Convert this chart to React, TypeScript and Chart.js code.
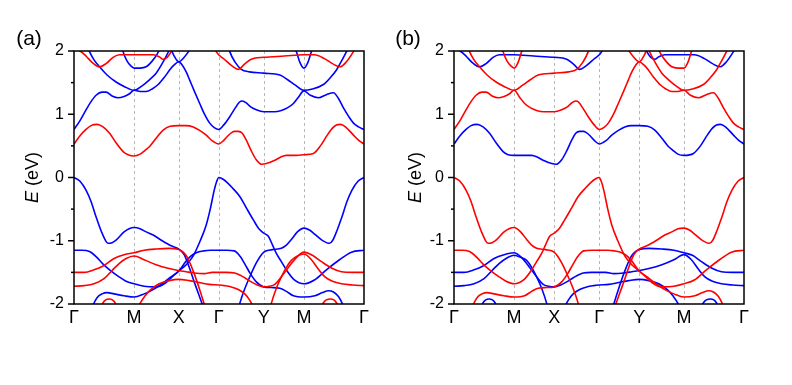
import React, { useEffect, useRef } from 'react';
import { Chart, registerables } from 'chart.js';
Chart.register(...registerables);

type Pt = [number, number];

const kLabels = ['Γ', 'M', 'X', 'Γ', 'Y', 'M', 'Γ'];
const kTicksA = [0, 60, 104.5, 144.5, 189.5, 229.5, 289.5];
const kTicksB = [0, 60, 100, 145, 185, 229.5, 289.5];
const yMin = -2;
const yMax = 2;

// ---------- Panel (a): red bands ----------
const redA1: Pt[] = [[0,0.53],[6,0.66],[12,0.76],[17,0.82],[23,0.84],[29,0.8],[35.5,0.7],[42,0.55],[49,0.41],[54,0.36],[60,0.34],[66,0.37],[71,0.43],[75.5,0.49],[82,0.62],[89,0.75],[96,0.81],[104.5,0.82],[112,0.82],[119,0.8],[125,0.75],[132,0.67],[138,0.58],[144.5,0.53],[149,0.58],[155,0.68],[160,0.73],[164,0.73],[168,0.7],[172,0.59],[177,0.42],[182,0.28],[187,0.21],[192,0.22],[200,0.27],[206,0.32],[212,0.35],[222,0.35],[229.5,0.36],[239,0.38],[246,0.5],[252,0.65],[258,0.78],[262,0.83],[266,0.84],[271,0.8],[279,0.67],[284,0.59],[289.5,0.53]];
const redA2a: Pt[] = [[0,2.03],[6,2.0],[12,1.92],[18,1.82],[25.5,1.75],[32,1.8],[39,1.9],[45.5,1.94],[60,1.94],[79,1.94],[85,1.91],[89,1.87],[93,1.9],[97,1.99],[100,2.1]];
const redA2b: Pt[] = [[137,2.2],[142,1.99],[150,1.87],[158,1.76],[164,1.71],[170,1.79],[177,1.87],[189.5,1.9],[210,1.92],[229.5,1.94],[240,1.94],[250,1.88],[258,1.8],[265.5,1.75],[272,1.83],[279,1.99],[283,2.1]];
const redAv1: Pt[] = [[0,-1.5],[10,-1.5],[20,-1.46],[29,-1.4],[40,-1.28],[50,-1.22],[60,-1.19],[70,-1.15],[82,-1.13],[95,-1.12],[104.5,-1.14],[109,-1.18],[113,-1.26],[119.5,-1.5],[125,-1.75],[130,-2.0],[133,-2.15]];
const redAv2: Pt[] = [[0,-1.72],[10,-1.71],[20,-1.68],[30,-1.6],[38,-1.47],[45,-1.36],[52,-1.28],[60,-1.24],[70,-1.3],[82,-1.38],[95,-1.44],[104.5,-1.47],[112,-1.49],[120,-1.51],[130,-1.52],[138,-1.5],[144.5,-1.5],[152,-1.5],[160.5,-1.51],[170,-1.58],[177,-1.65],[183,-1.7],[189.5,-1.73],[195,-1.72],[200.5,-1.69],[208,-1.55],[217,-1.36],[223,-1.25],[229.5,-1.18],[238,-1.23],[247,-1.33],[257,-1.43],[267,-1.49],[278,-1.5],[289.5,-1.5]];
const redAv3: Pt[] = [[62,-2.15],[66,-1.99],[71,-1.87],[76,-1.78],[85,-1.68],[95,-1.63],[104.5,-1.61],[115,-1.63],[125,-1.66],[135,-1.69],[144.5,-1.7],[150,-1.71],[157,-1.73],[164,-1.77],[170.5,-1.84],[175,-1.93],[178,-2.02],[181,-2.2]];
const redAv4: Pt[] = [[194,-2.2],[197,-1.99],[202,-1.75],[207,-1.57],[212,-1.42],[217,-1.31],[223,-1.24],[229.5,-1.21],[237,-1.3],[244,-1.45],[250.5,-1.57],[258,-1.64],[267,-1.68],[278,-1.7],[289.5,-1.71]];
const redAarc1: Pt[] = [[25,-2.15],[29,-1.98],[35,-1.92],[41,-1.98],[45,-2.15]];
const redAarc2: Pt[] = [[245,-2.15],[249,-1.98],[256,-1.92],[262,-1.98],[266,-2.15]];

// ---------- Panel (a): blue bands ----------
const blueAv1: Pt[] = [[0,0],[6,-0.06],[12,-0.2],[17,-0.38],[22,-0.62],[28,-0.88],[34,-1.04],[38,-1.03],[42,-0.99],[50,-0.86],[55,-0.81],[60,-0.79],[66,-0.81],[72,-0.86],[79,-0.91],[88,-1.0],[97,-1.08],[104.5,-1.13],[110,-1.22],[115,-1.42],[120,-1.65],[125,-1.87],[129,-2.05],[132,-2.2]];
const blueAv2: Pt[] = [[0,-1.15],[8,-1.15],[15.5,-1.17],[22,-1.25],[29,-1.37],[35.5,-1.46],[45,-1.57],[52,-1.64],[60,-1.68],[70,-1.72],[82,-1.73],[92,-1.66],[98,-1.57],[104.5,-1.48],[112,-1.38],[119,-1.24],[126,-1.0],[132,-0.75],[136,-0.5],[140,-0.2],[142.5,-0.06],[144.5,0],[148,-0.02],[153,-0.08],[159,-0.18],[165.5,-0.3],[172,-0.48],[179,-0.67],[185,-0.82],[189.5,-0.88],[194,-0.93],[198,-1.06],[202,-1.2],[207,-1.33],[212,-1.46],[220,-1.62],[229.5,-1.68],[240,-1.62],[252,-1.46],[265,-1.3],[277,-1.18],[289.5,-1.15]];
const blueAv3: Pt[] = [[15,-2.2],[19,-2.02],[23,-1.9],[28,-1.84],[33,-1.82],[40,-1.84],[50,-1.87],[60,-1.89],[70,-1.84],[78,-1.78],[86,-1.7],[96,-1.58],[104.5,-1.48],[112,-1.32],[116,-1.25],[122,-1.19],[129.5,-1.16],[136,-1.15],[144.5,-1.15],[152,-1.15],[160,-1.16],[166,-1.25],[171,-1.38],[176,-1.52],[182,-1.65],[189.5,-1.73],[197,-1.74],[205.5,-1.75],[212,-1.8],[219,-1.87],[229.5,-1.89],[240.5,-1.87],[248,-1.82],[254,-1.79],[259,-1.81],[264,-1.88],[268,-2.0],[272,-2.2]];
const blueAv4: Pt[] = [[162,-2.2],[165.5,-1.99],[170,-1.78],[175.5,-1.57],[182,-1.35],[189.5,-1.18],[198,-1.14],[207,-1.12],[212,-1.07],[217,-0.98],[223,-0.86],[229.5,-0.8],[235,-0.83],[240.5,-0.9],[247.5,-0.99],[255,-1.04],[258,-1.0],[261.5,-0.88],[267.5,-0.62],[272.5,-0.38],[277.5,-0.2],[283.5,-0.06],[289.5,0]];
const blueAc1: Pt[] = [[0,0.76],[6,0.9],[12,1.07],[17,1.2],[22,1.3],[28,1.35],[32,1.35],[38,1.29],[44,1.26],[50,1.28],[55,1.32],[60,1.38],[66,1.36],[72,1.36],[78,1.4],[84,1.47],[90,1.58],[96,1.71],[100,1.78],[104.5,1.83],[108,1.78],[112,1.67],[115.5,1.54],[120,1.37],[125.5,1.17],[130,1.01],[135.5,0.86],[140,0.79],[144.5,0.76],[150,0.84],[155.5,0.96],[161,1.1],[165,1.19],[168,1.21],[172,1.18],[176,1.12],[182,1.07],[189.5,1.04],[200,1.04],[207,1.06],[213,1.1],[219,1.17],[224,1.27],[229.5,1.37],[236,1.3],[244,1.26],[252,1.31],[259,1.34],[264,1.25],[269,1.1],[274,0.97],[279,0.86],[284,0.8],[289.5,0.76]];
const blueAc2a: Pt[] = [[11,2.2],[15.5,1.99],[20,1.86],[25.5,1.75],[33,1.62],[42,1.51],[50,1.44],[60,1.38],[68,1.45],[75,1.54],[82,1.65],[88,1.8],[94,1.98],[97,2.1]];
const blueAc2b: Pt[] = [[152,2.2],[155.5,1.99],[161,1.82],[167,1.71],[175,1.67],[189.5,1.65],[205.5,1.62],[213,1.55],[221,1.46],[229.5,1.38],[238,1.4],[249,1.47],[256,1.58],[262,1.7],[267,1.84],[272,1.99],[275,2.1]];
const blueAc3a: Pt[] = [[46,2.2],[49,1.99],[53,1.84],[57,1.76],[60,1.73],[66,1.73],[72,1.75],[78,1.84],[83,1.95],[86,2.05]];
const blueAc3b: Pt[] = [[219,2.1],[222,1.99],[225.5,1.82],[229.5,1.73],[233.5,1.82],[237,1.99],[240,2.1]];
const blueAc4: Pt[] = [[95,2.1],[100,1.92],[104.5,1.83],[110,1.9],[117,2.05]];

// ---------- Panel (b): red bands ----------
const redB1: Pt[] = [[0,0],[6,-0.06],[12,-0.2],[17,-0.38],[22,-0.62],[28,-0.88],[34,-1.04],[38,-1.03],[42,-0.99],[50,-0.86],[55,-0.81],[60,-0.79],[66.5,-0.86],[72.5,-0.98],[77.5,-1.07],[82.5,-1.12],[91.5,-1.14],[100,-1.18],[107.5,-1.35],[114,-1.57],[119.5,-1.78],[124,-1.99],[127.5,-2.2]];
const redB2: Pt[] = [[157.5,-2.2],[160.5,-2.05],[164.5,-1.87],[169.5,-1.65],[174.5,-1.42],[179.5,-1.22],[185,-1.13],[192.5,-1.08],[201.5,-1.0],[210.5,-0.91],[217.5,-0.86],[223.5,-0.81],[229.5,-0.8],[235,-0.83],[240.5,-0.9],[247.5,-0.99],[255,-1.04],[258,-1.0],[261.5,-0.88],[267.5,-0.62],[272.5,-0.38],[277.5,-0.2],[283.5,-0.06],[289.5,0]];
const redB3: Pt[] = [[0,-1.15],[8,-1.15],[15.5,-1.17],[22,-1.25],[29,-1.37],[35.5,-1.46],[45,-1.57],[52,-1.64],[60,-1.68],[69.5,-1.62],[77.5,-1.46],[82.5,-1.33],[87.5,-1.2],[91.5,-1.06],[95.5,-0.93],[100,-0.88],[104.5,-0.82],[110.5,-0.67],[117.5,-0.48],[124,-0.3],[130.5,-0.18],[136.5,-0.08],[141.5,-0.02],[145,0],[147,-0.06],[149.5,-0.2],[153.5,-0.5],[157.5,-0.75],[163.5,-1.0],[170.5,-1.24],[177.5,-1.38],[185,-1.48],[191.5,-1.57],[197.5,-1.66],[207.5,-1.73],[219.5,-1.72],[229.5,-1.68],[240,-1.62],[252,-1.46],[265,-1.3],[277,-1.18],[289.5,-1.15]];
const redB4: Pt[] = [[15,-2.2],[19,-2.02],[23,-1.9],[28,-1.84],[33,-1.82],[40,-1.84],[50,-1.87],[60,-1.89],[70.5,-1.87],[77.5,-1.8],[84,-1.75],[92.5,-1.74],[100,-1.73],[107.5,-1.65],[113.5,-1.52],[118.5,-1.38],[123.5,-1.25],[129.5,-1.16],[137.5,-1.15],[145,-1.15],[153.5,-1.15],[160,-1.16],[167.5,-1.19],[173.5,-1.25],[177.5,-1.32],[185,-1.48],[193.5,-1.58],[203.5,-1.7],[211.5,-1.78],[219.5,-1.84],[229.5,-1.89],[240.5,-1.87],[248,-1.82],[254,-1.79],[259,-1.81],[264,-1.88],[268,-2.0],[272,-2.2]];
const redB5: Pt[] = [[0,0.76],[6,0.9],[12,1.07],[17,1.2],[22,1.3],[28,1.35],[32,1.35],[38,1.29],[44,1.26],[50,1.28],[55,1.32],[60,1.38],[65.5,1.27],[70.5,1.17],[76.5,1.1],[82.5,1.06],[89.5,1.04],[100,1.04],[107.5,1.07],[113.5,1.12],[117.5,1.18],[121.5,1.21],[124.5,1.19],[128.5,1.1],[134,0.96],[139.5,0.84],[145,0.76],[149.5,0.79],[154,0.86],[159.5,1.01],[164,1.17],[169.5,1.37],[174,1.54],[177.5,1.67],[181.5,1.78],[185,1.83],[189.5,1.78],[193.5,1.71],[199.5,1.58],[205.5,1.47],[211.5,1.4],[217.5,1.36],[223.5,1.36],[229.5,1.38],[236,1.3],[244,1.26],[252,1.31],[259,1.34],[264,1.25],[269,1.1],[274,0.97],[279,0.86],[284,0.8],[289.5,0.76]];
const redB6: Pt[] = [[11,2.2],[15.5,1.99],[20,1.86],[25.5,1.75],[33,1.62],[42,1.51],[50,1.44],[60,1.38],[68.5,1.46],[76.5,1.55],[84,1.62],[100,1.65],[114.5,1.67],[122.5,1.71],[128.5,1.82],[134,1.99],[137.5,2.2]];
const redB7: Pt[] = [[192.5,2.1],[195.5,1.98],[201.5,1.8],[207.5,1.65],[214.5,1.54],[221.5,1.45],[229.5,1.38],[238,1.4],[249,1.47],[256,1.58],[262,1.7],[267,1.84],[272,1.99],[275,2.1]];
const redB8: Pt[] = [[46,2.2],[49,1.99],[53,1.84],[57,1.76],[60,1.73],[64,1.82],[67.5,1.99],[70.5,2.1]];
const redB9: Pt[] = [[203.5,2.05],[206.5,1.95],[211.5,1.84],[217.5,1.75],[223.5,1.73],[229.5,1.73],[233.5,1.82],[237,1.99],[240,2.1]];
const redB10: Pt[] = [[172.5,2.05],[179.5,1.9],[185,1.83],[189.5,1.92],[194.5,2.1]];

// ---------- Panel (b): blue bands ----------
const blueB1: Pt[] = [[0,0.53],[6,0.66],[12,0.76],[17,0.82],[23,0.84],[29,0.8],[35.5,0.7],[42,0.55],[49,0.41],[54,0.36],[60,0.35],[67.5,0.35],[77.5,0.35],[83.5,0.32],[89.5,0.27],[97.5,0.22],[102.5,0.21],[107.5,0.28],[112.5,0.42],[117.5,0.59],[121.5,0.7],[125.5,0.73],[129.5,0.73],[134.5,0.68],[140.5,0.58],[145,0.53],[151.5,0.58],[157.5,0.67],[164.5,0.75],[170.5,0.8],[177.5,0.82],[185,0.82],[193.5,0.81],[200.5,0.75],[207.5,0.62],[214,0.49],[218.5,0.43],[223.5,0.37],[229.5,0.35],[239,0.38],[246,0.5],[252,0.65],[258,0.78],[262,0.83],[266,0.84],[271,0.8],[279,0.67],[284,0.59],[289.5,0.53]];
const blueB2: Pt[] = [[0,2.03],[6,2.0],[12,1.92],[18,1.82],[25.5,1.75],[32,1.8],[39,1.9],[45.5,1.94],[60,1.94],[79.5,1.92],[100,1.9],[112.5,1.87],[119.5,1.79],[125.5,1.71],[131.5,1.76],[139.5,1.87],[147.5,1.99],[152.5,2.2]];
const blueB3: Pt[] = [[189.5,2.1],[192.5,1.99],[196.5,1.9],[200.5,1.87],[204.5,1.91],[210.5,1.94],[229.5,1.94],[240,1.94],[250,1.88],[258,1.8],[265.5,1.75],[272,1.83],[279,1.99],[283,2.1]];
const blueB4: Pt[] = [[0,-1.5],[10,-1.5],[20,-1.46],[29,-1.4],[40,-1.28],[50,-1.22],[60,-1.19],[66.5,-1.25],[72.5,-1.36],[81.5,-1.55],[89,-1.69],[94.5,-1.72],[100,-1.73],[106.5,-1.7],[112.5,-1.65],[119.5,-1.58],[129,-1.51],[137.5,-1.5],[145,-1.5],[151.5,-1.5],[159.5,-1.52],[169.5,-1.51],[177.5,-1.49],[185,-1.47],[194.5,-1.44],[207.5,-1.38],[219.5,-1.3],[229.5,-1.22],[237,-1.3],[244,-1.45],[250.5,-1.57],[258,-1.64],[267,-1.68],[278,-1.7],[289.5,-1.71]];
const blueB5: Pt[] = [[0,-1.72],[10,-1.71],[20,-1.68],[30,-1.6],[38,-1.47],[45,-1.36],[52,-1.28],[60,-1.23],[66.5,-1.26],[72.5,-1.31],[77.5,-1.42],[82.5,-1.57],[87.5,-1.75],[92.5,-1.99],[95.5,-2.2]];
const blueB6: Pt[] = [[156.5,-2.15],[159.5,-2.0],[164.5,-1.75],[170,-1.5],[176.5,-1.26],[180.5,-1.18],[185,-1.14],[194.5,-1.12],[207.5,-1.13],[219.5,-1.15],[229.5,-1.19],[238,-1.23],[247,-1.33],[257,-1.43],[267,-1.49],[278,-1.5],[289.5,-1.5]];
const blueB7: Pt[] = [[108.5,-2.2],[111.5,-2.02],[114.5,-1.93],[119,-1.84],[125.5,-1.77],[132.5,-1.73],[139.5,-1.71],[145,-1.7],[154.5,-1.69],[164.5,-1.66],[174.5,-1.63],[185,-1.61],[194.5,-1.63],[204.5,-1.68],[213.5,-1.78],[218.5,-1.87],[223.5,-1.99],[227.5,-2.15]];
const blueBarc1: Pt[] = [[25,-2.15],[29,-1.98],[35,-1.92],[41,-1.98],[45,-2.15]];
const blueBarc2: Pt[] = [[245,-2.15],[249,-1.98],[256,-1.92],[262,-1.98],[266,-2.15]];

const redA = [redA1, redA2a, redA2b, redAv1, redAv2, redAv3, redAv4, redAarc1, redAarc2];
const blueA = [blueAv1, blueAv2, blueAv3, blueAv4, blueAc1, blueAc2a, blueAc2b, blueAc3a, blueAc3b, blueAc4];
const redB = [redB1, redB2, redB3, redB4, redB5, redB6, redB7, redB8, redB9, redB10];
const blueB = [blueB1, blueB2, blueB3, blueB4, blueB5, blueB6, blueB7, blueBarc1, blueBarc2];

const RED = '#ff0000';
const BLUE = '#0000ff';

function mkSets(red: Pt[][], blue: Pt[][]) {
  const ds: any[] = [];
  const add = (pts: Pt[], c: string) => ds.push({
    data: pts.map(([x, y]) => ({ x, y })),
    borderColor: c, borderWidth: 1.6, pointRadius: 0, fill: false,
    cubicInterpolationMode: 'monotone', clip: 0,
  });
  red.forEach(p => add(p, RED));
  blue.forEach(p => add(p, BLUE));
  return ds;
}

const FONT = '"Liberation Sans", Arial, sans-serif';

const decoPlugin = {
  id: 'deco',
  beforeDatasetsDraw(chart: any, _a: any, o: any) {
    const { ctx, chartArea: a, scales: { x } } = chart;
    ctx.save();
    ctx.strokeStyle = '#b8b8b8';
    ctx.lineWidth = 1;
    ctx.setLineDash([3, 3]);
    o.kTicks.slice(1, -1).forEach((k: number) => {
      const px = Math.round(x.getPixelForValue(k)) + 0.5;
      ctx.beginPath(); ctx.moveTo(px, a.top); ctx.lineTo(px, a.bottom); ctx.stroke();
    });
    ctx.restore();
  },
  afterDraw(chart: any, _a: any, o: any) {
    const { ctx, chartArea: a, scales: { y } } = chart;
    ctx.save();
    ctx.strokeStyle = '#000';
    ctx.lineWidth = 1.5;
    ctx.strokeRect(a.left, a.top, a.right - a.left, a.bottom - a.top);
    for (let v = yMin; v <= yMax + 1e-9; v += 0.5) {
      const py = y.getPixelForValue(v);
      const len = Math.abs(v - Math.round(v)) < 1e-9 ? 6 : 3;
      ctx.beginPath(); ctx.moveTo(a.left - len, py); ctx.lineTo(a.left, py); ctx.stroke();
    }
    ctx.fillStyle = '#000';
    ctx.textBaseline = 'middle';
    ctx.translate(o.titleX, (a.top + a.bottom) / 2);
    ctx.rotate(-Math.PI / 2);
    ctx.font = `italic 18px ${FONT}`;
    const w1 = ctx.measureText('E').width;
    ctx.font = `18px ${FONT}`;
    const w2 = ctx.measureText(' (eV)').width;
    const x0 = -(w1 + w2) / 2;
    ctx.font = `italic 18px ${FONT}`;
    ctx.textAlign = 'left';
    ctx.fillText('E', x0, 0);
    ctx.font = `18px ${FONT}`;
    ctx.fillText(' (eV)', x0 + w1, 0);
    ctx.restore();
    ctx.save();
    ctx.fillStyle = '#000';
    ctx.font = `21px ${FONT}`;
    ctx.textAlign = 'center';
    ctx.textBaseline = 'middle';
    ctx.fillText(o.label, o.labelX, 39);
    ctx.restore();
  },
};

type PanelProps = {
  left: number; width: number; axisW: number; padRight: number;
  kTicks: number[]; sets: any[]; titleX: number; label: string; labelX: number;
};

function Panel(p: PanelProps) {
  const ref = useRef<HTMLCanvasElement>(null);
  useEffect(() => {
    const chart = new Chart(ref.current!, {
      type: 'line',
      data: { datasets: p.sets },
      plugins: [decoPlugin],
      options: {
        animation: false,
        responsive: false,
        devicePixelRatio: 1,
        events: [],
        layout: { padding: { left: 0, top: 51, right: p.padRight, bottom: 51 } },
        plugins: {
          legend: { display: false },
          tooltip: { enabled: false },
          deco: { kTicks: p.kTicks, titleX: p.titleX, label: p.label, labelX: p.labelX },
        } as any,
        scales: {
          x: {
            type: 'linear', min: 0, max: p.kTicks[p.kTicks.length - 1],
            grid: { display: false, drawTicks: false },
            border: { display: false },
            afterBuildTicks: (s: any) => { s.ticks = p.kTicks.map(v => ({ value: v })); },
            afterFit: (s: any) => { s.height = 30; },
            ticks: {
              autoSkip: false, maxRotation: 0, padding: 3, color: '#000',
              font: { family: FONT, size: 18 },
              callback: (_v: any, i: number) => kLabels[i],
            },
          },
          y: {
            type: 'linear', min: yMin, max: yMax,
            grid: { display: false, drawTicks: false },
            border: { display: false },
            afterFit: (s: any) => { s.width = p.axisW; },
            ticks: { stepSize: 1, padding: 10, color: '#000', font: { family: FONT, size: 16 } },
          },
        },
      },
    });
    return () => chart.destroy();
  }, []);
  return (
    <canvas ref={ref} width={p.width} height={385}
      style={{ position: 'absolute', left: p.left, top: 0, width: p.width, height: 385 }} />
  );
}

export default function App() {
  const setsA = mkSets(redA, blueA);
  const setsB = mkSets(redB, blueB);
  return (
    <div style={{ position: 'absolute', left: 0, top: 0, width: 792, height: 385, background: '#fff' }}>
      <Panel left={0} width={390} axisW={74} padRight={26} kTicks={kTicksA} sets={setsA} titleX={33} label="(a)" labelX={29} />
      <Panel left={390} width={402} axisW={64} padRight={48} kTicks={kTicksB} sets={setsB} titleX={26} label="(b)" labelX={18} />
    </div>
  );
}
